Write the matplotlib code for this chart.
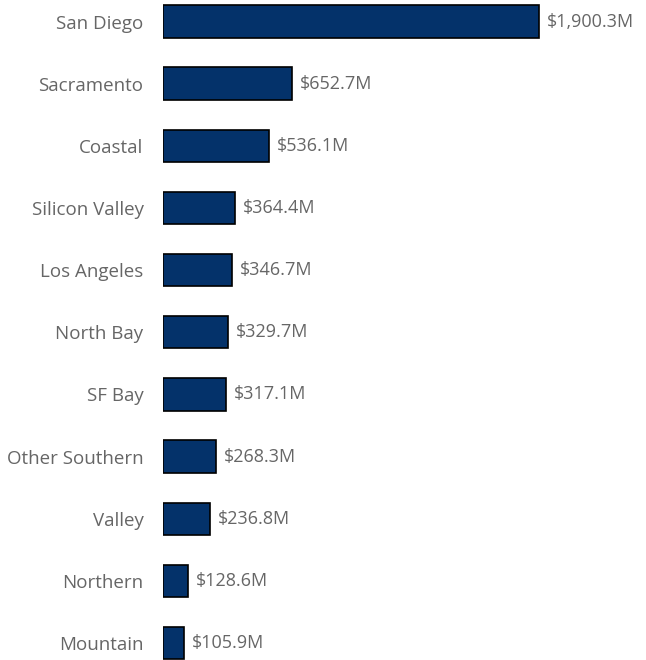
#!/usr/bin/env python
import matplotlib
matplotlib.use("Agg")
import matplotlib.pyplot as plt

# regions and spending (millions of dollars)
regions = ["San Diego", "Sacramento", "Coastal", "Silicon Valley", "Los Angeles",
           "North Bay", "SF Bay", "Other Southern", "Valley", "Northern", "Mountain"]
amounts = [1900.3, 652.7, 536.1, 364.4, 346.7, 329.7, 317.1, 268.3, 236.8, 128.6, 105.9]

plt.rcParams['font.family'] = ['Open Sans', 'DejaVu Sans']

fig = plt.figure(figsize=(6.46, 6.60), dpi=100)
ax = fig.add_axes([163 / 646, 0, 1 - 163 / 646, 1])

ypos = list(range(len(regions)))
ax.barh(ypos, amounts, height=0.52, color="#04326A", edgecolor="black", linewidth=1.2)

# value labels right of each bar
for y, v in zip(ypos, amounts):
    ax.text(v + 40, y, f"${v:,.1f}M", va="center", ha="left", fontsize=13, color="#666666")

ax.set_yticks(ypos)
ax.set_yticklabels(regions, fontsize=13.5, color="#666666")
ax.tick_params(axis="y", length=0, pad=14)
ax.set_xticks([])
ax.set_xlim(0, 2440)
ax.set_ylim(10.273, -0.346)
for s in ax.spines.values():
    s.set_visible(False)

plt.savefig("out.png", dpi=100)
